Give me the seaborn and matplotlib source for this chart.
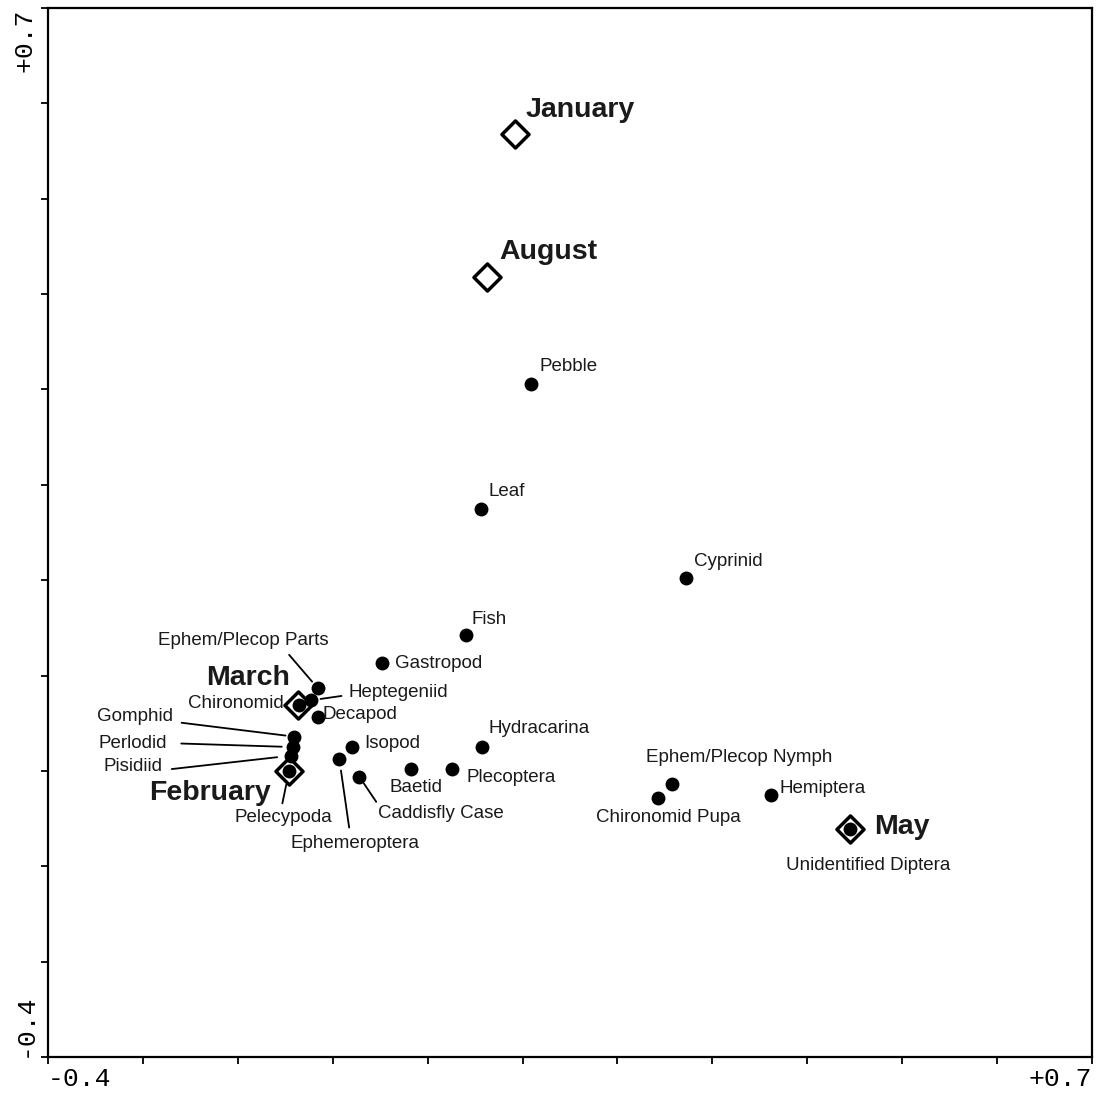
import matplotlib
matplotlib.use("Agg")
import matplotlib.pyplot as plt
import seaborn as sns
import pandas as pd
import numpy as np

# ---------------- data ----------------
species = ["Pebble", "Leaf", "Cyprinid", "Fish", "Gastropod",
           "Ephem/Plecop Parts", "Heptegeniid", "Chironomid", "Decapod",
           "Gomphid", "Perlodid", "Pisidiid", "Pelecypoda", "Isopod",
           "Ephemeroptera", "Caddisfly Case", "Baetid", "Plecoptera",
           "Hydracarina", "Ephem/Plecop Nymph", "Chironomid Pupa",
           "Hemiptera", "Unidentified Diptera"]
species_x = [0.109, 0.056, 0.272, 0.040, -0.048,
             -0.116, -0.123, -0.136, -0.115,
             -0.141, -0.142, -0.144, -0.146, -0.080,
             -0.093, -0.072, -0.018, 0.026,
             0.057, 0.257, 0.243,
             0.362, 0.445]
species_y = [0.306, 0.175, 0.102, 0.042, 0.013,
             -0.013, -0.026, -0.031, -0.043,
             -0.064, -0.075, -0.084, -0.100, -0.075,
             -0.088, -0.106, -0.098, -0.098,
             -0.075, -0.114, -0.128,
             -0.125, -0.161]

months = ["January", "August", "March", "February", "May"]
month_x = [0.092, 0.063, -0.137, -0.146, 0.445]
month_y = [0.568, 0.418, -0.031, -0.100, -0.161]

axis_ticks = [-0.4, -0.3, -0.2, -0.1, 0.0, 0.1, 0.2, 0.3, 0.4, 0.5, 0.6, 0.7]
tick_text = ["-0.4", "", "", "", "", "", "", "", "", "", "", "+0.7"]

# ---------------- layout (label offsets in pixels, alignment, leaders) ----------------
species_layout = {
    "Pebble": (8, 17, "left"),
    "Leaf": (8, 17, "left"),
    "Cyprinid": (8, 17, "left"),
    "Fish": (6, 16, "left"),
    "Gastropod": (13, 0, "left"),
    "Ephem/Plecop Parts": (-74, 47, "center"),
    "Heptegeniid": (38, 8, "left"),
    "Chironomid": (-15, 2, "right"),
    "Decapod": (4, 2, "left"),
    "Gomphid": (-121, 20, "right"),
    "Perlodid": (-126, 4, "right"),
    "Pisidiid": (-128, -11, "right"),
    "Pelecypoda": (-6, -47, "center"),
    "Isopod": (13, 4, "left"),
    "Ephemeroptera": (16, -84, "center"),
    "Caddisfly Case": (82, -37, "center"),
    "Baetid": (5, -18, "center"),
    "Plecoptera": (14, -8, "left"),
    "Hydracarina": (7, 19, "left"),
    "Ephem/Plecop Nymph": (68, 27, "center"),
    "Chironomid Pupa": (10, -20, "center"),
    "Hemiptera": (8, 6, "left"),
    "Unidentified Diptera": (18, -36, "center"),
}
leaders = {  # relpos, shrinkA, shrinkB
    "Ephem/Plecop Parts": ((0.74, 0.0), 2, 6),
    "Heptegeniid": ((0.0, 0.35), 3, 7),
    "Gomphid": ((1.0, 0.2), 4, 6),
    "Perlodid": ((1.0, 0.5), 8, 8),
    "Pisidiid": ((1.0, 0.3), 4, 10),
    "Pelecypoda": ((0.48, 1.0), 2, 10),
    "Ephemeroptera": ((0.46, 1.0), 3, 8),
    "Caddisfly Case": ((0.0, 1.0), 0, 6),
}
month_layout = {
    "January": (11, 24, "left"),
    "August": (12, 25, "left"),
    "March": (-8, 27, "right"),
    "February": (-18, -22, "right"),
    "May": (24, 2, "left"),
}

# ---------------- plotting ----------------
sns.set_style("white")
plt.rcParams["font.family"] = ["Liberation Sans", "DejaVu Sans"]

sdf = pd.DataFrame({"name": species, "x": species_x, "y": species_y})
mdf = pd.DataFrame({"name": months, "x": month_x, "y": month_y})

fig = plt.figure(figsize=(10.98, 10.96), dpi=100)
ax = fig.add_axes([48 / 1098, 1 - 1057 / 1096, 1044 / 1098, 1049 / 1096])

sns.scatterplot(data=mdf, x="x", y="y", marker="D", s=190, color="white",
                edgecolor="black", linewidth=2.5, ax=ax, zorder=2, legend=False)
sns.scatterplot(data=sdf, x="x", y="y", marker="o", s=100, color="black",
                edgecolor="black", linewidth=0, ax=ax, zorder=3, legend=False)

for name, x, y in zip(species, species_x, species_y):
    dx, dy, ha = species_layout[name]
    kw = {}
    if name in leaders:
        rp, sa, sb = leaders[name]
        kw["arrowprops"] = dict(arrowstyle="-", color="black", lw=1.3,
                                shrinkA=sa, shrinkB=sb, relpos=rp)
    ax.annotate(name, xy=(x, y), xytext=(dx, dy), textcoords="offset pixels",
                ha=ha, va="center", fontsize=13.5, color="#1a1a1a", **kw)

for name, x, y in zip(months, month_x, month_y):
    dx, dy, ha = month_layout[name]
    ax.annotate(name, xy=(x, y), xytext=(dx, dy), textcoords="offset pixels",
                ha=ha, va="center", fontsize=20.5, fontweight="bold", color="#1a1a1a")

ax.set_xlim(-0.4, 0.7)
ax.set_ylim(-0.4, 0.7)
ax.set_xlabel("")
ax.set_ylabel("")
ax.set_xticks(axis_ticks)
ax.set_xticklabels(tick_text)
ax.set_yticks(axis_ticks)
ax.set_yticklabels(tick_text, rotation=90)
ax.tick_params(direction="out", length=5, width=1.3, colors="black",
               bottom=True, left=True, top=False, right=False,
               labelsize=19)
ax.tick_params(axis="x", pad=2)
ax.tick_params(axis="y", pad=3)
for lbl in ax.get_xticklabels() + ax.get_yticklabels():
    lbl.set_fontfamily(["Liberation Mono", "DejaVu Sans Mono"])
xl = ax.get_xticklabels()
xl[0].set_ha("left")
xl[-1].set_ha("right")
yl = ax.get_yticklabels()
yl[0].set_va("bottom")
yl[-1].set_va("top")
for lbl in yl:
    lbl.set_ha("right")

for sp in ax.spines.values():
    sp.set_visible(True)
    sp.set_color("black")
    sp.set_linewidth(1.6)

fig.savefig("out.png", dpi=100, facecolor="white")
